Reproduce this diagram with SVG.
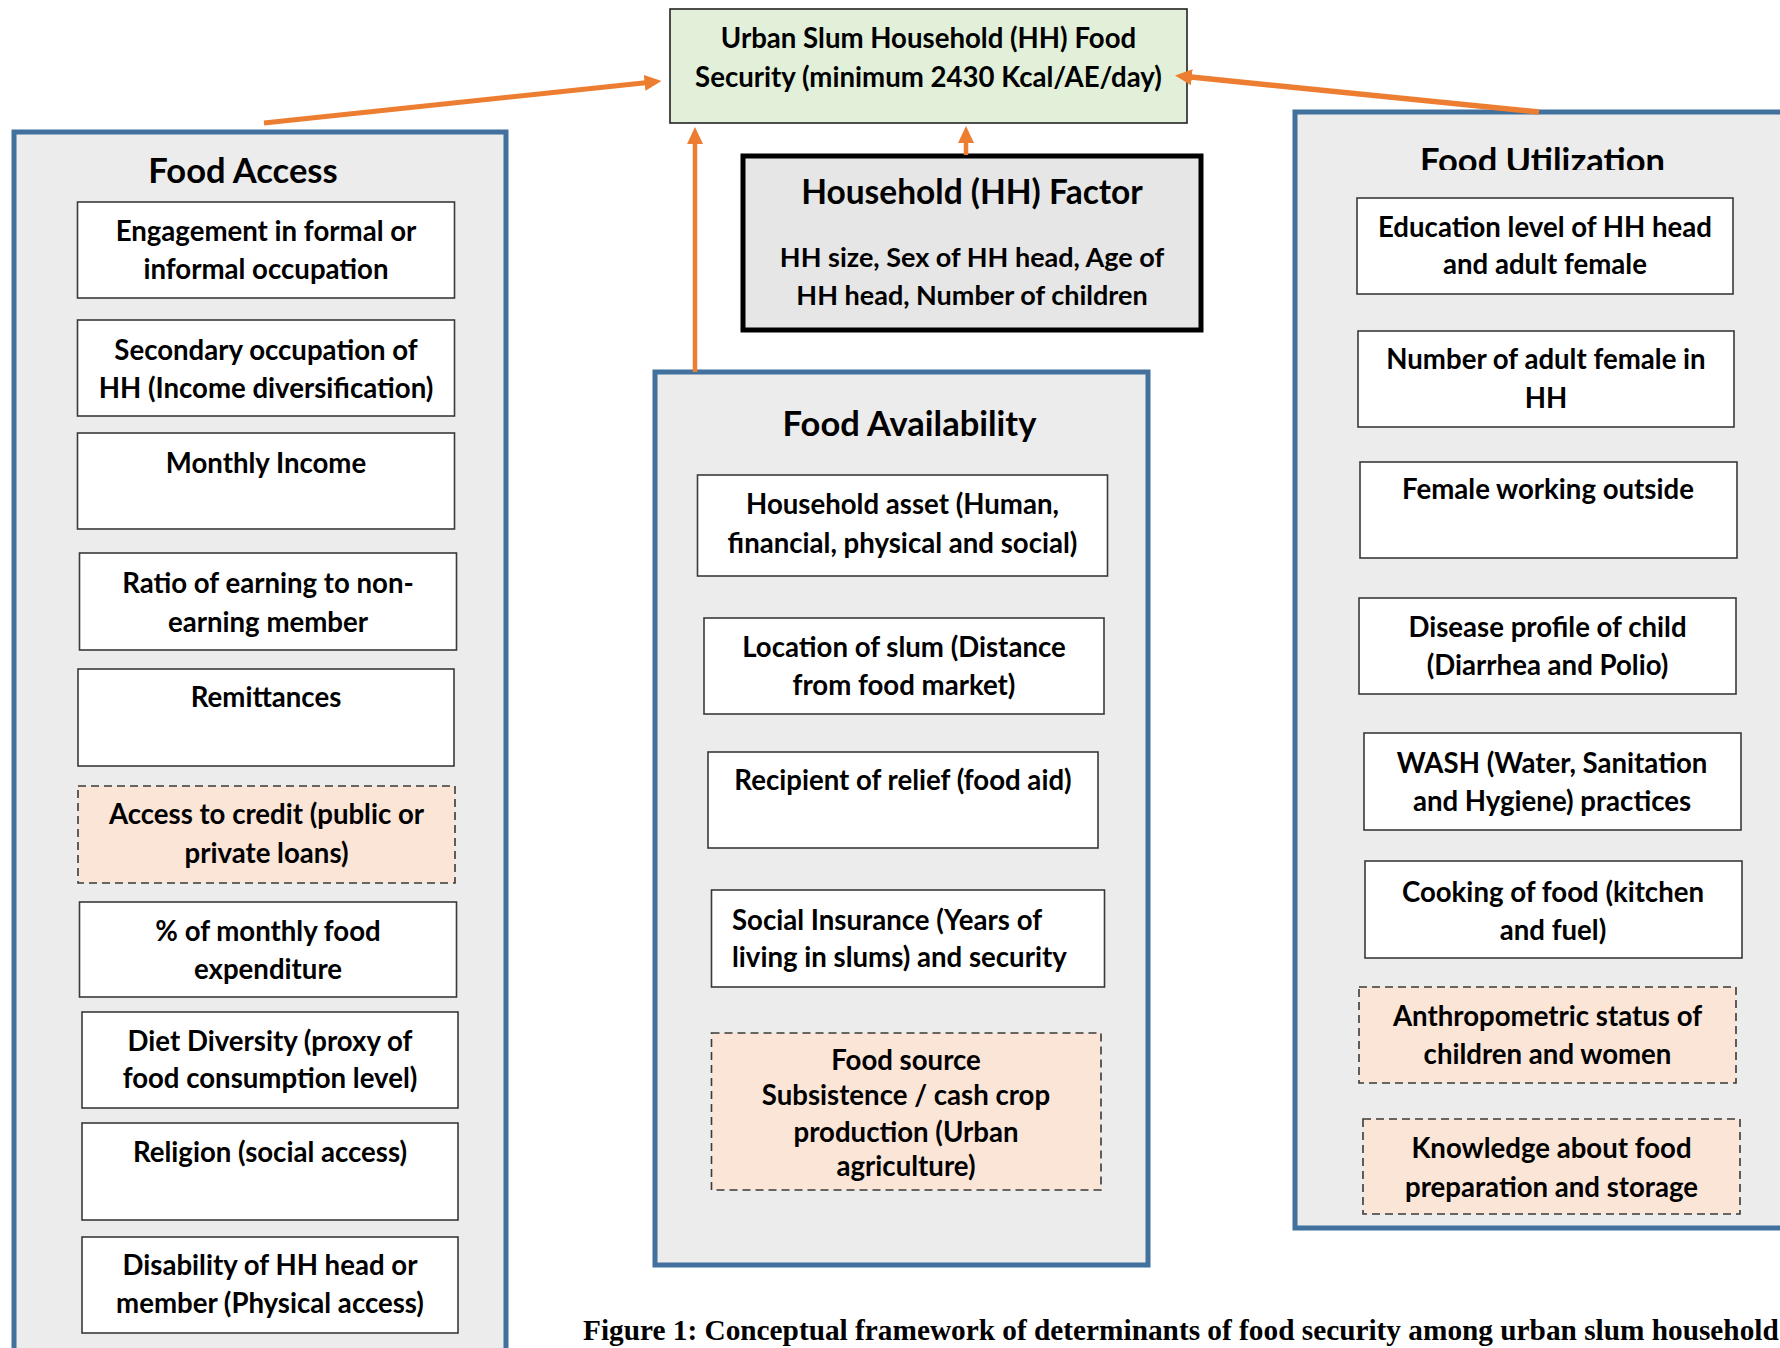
<svg xmlns="http://www.w3.org/2000/svg" width="1780" height="1348" viewBox="0 0 1780 1348">
<defs>
<style>
.grp{fill:#ececec;stroke:#41719c;stroke-width:5}
.item{fill:#ffffff;stroke:#3a3a3a;stroke-width:1.6}
.dash{fill:#fbe5d6;stroke:#3a3a3a;stroke-width:1.6;stroke-dasharray:8 5}
.t{font-family:Lato,"Liberation Sans",sans-serif;font-weight:bold;font-size:27.6px;fill:#000;text-anchor:middle}
.tl{text-anchor:start}
.h{font-size:34.5px}
.hh{font-size:33.5px}
.sub{font-size:27px}
.cap{font-family:"Liberation Serif","Times New Roman",serif;font-weight:bold;font-size:29.3px;fill:#000}
.arr{stroke:#ed7d31;fill:none;marker-end:url(#ah)}
</style>
<marker id="ah" markerUnits="userSpaceOnUse" markerWidth="20" markerHeight="18" viewBox="0 -9 20 18" refX="1" refY="0" orient="auto">
<path d="M0,-8 L17,0 L0,8 Z" fill="#ed7d31"/>
</marker>
<clipPath id="clipU"><rect x="1295" y="112" width="500" height="58"/></clipPath>
</defs>
<rect width="1780" height="1348" fill="#ffffff"/>

<g id="target">
<rect x="670" y="9" width="517" height="114" fill="#e2efd9" stroke="#222" stroke-width="1.6"/>
<text class="t" x="928.5" y="48">Urban Slum Household (HH) Food</text>
<text class="t" x="928.5" y="87">Security (minimum 2430 Kcal/AE/day)</text>
</g>

<g id="hh-factor">
<rect x="743" y="156" width="458" height="174" fill="#e6e6e6" stroke="#000" stroke-width="5"/>
<text class="t hh" x="972" y="204">Household (HH) Factor</text>
<text class="t sub" x="972" y="267">HH size, Sex of HH head, Age of</text>
<text class="t sub" x="972" y="305">HH head, Number of children</text>
</g>

<g id="food-access">
<rect class="grp" x="14" y="132" width="492" height="1300"/>
<text class="t h" x="243" y="183">Food Access</text>
<g id="fa-occupation"><rect class="item" x="77.5" y="202" width="377" height="96"/>
<text class="t" x="266" y="241">Engagement in formal or</text><text class="t" x="266" y="279">informal occupation</text></g>
<g id="fa-secondary"><rect class="item" x="77.5" y="320" width="377" height="96"/>
<text class="t" x="266" y="360">Secondary occupation of</text><text class="t" x="266" y="398">HH (Income diversification)</text></g>
<g id="fa-income"><rect class="item" x="77.5" y="433" width="377" height="96"/>
<text class="t" x="266" y="472.5">Monthly Income</text></g>
<g id="fa-ratio"><rect class="item" x="79.5" y="553" width="377" height="97"/>
<text class="t" x="268" y="593">Ratio of earning to non-</text><text class="t" x="268" y="632">earning member</text></g>
<g id="fa-remit"><rect class="item" x="78" y="669" width="376" height="97"/>
<text class="t" x="266" y="707">Remittances</text></g>
<g id="fa-credit"><rect class="dash" x="78" y="786" width="377" height="97"/>
<text class="t" x="266.5" y="824">Access to credit (public or</text><text class="t" x="266.5" y="863">private loans)</text></g>
<g id="fa-expend"><rect class="item" x="79.5" y="902" width="377" height="95"/>
<text class="t" x="268" y="941">% of monthly food</text><text class="t" x="268" y="979">expenditure</text></g>
<g id="fa-diet"><rect class="item" x="82" y="1012" width="376" height="96"/>
<text class="t" x="270" y="1051">Diet Diversity (proxy of</text><text class="t" x="270" y="1088">food consumption level)</text></g>
<g id="fa-religion"><rect class="item" x="82" y="1123" width="376" height="97"/>
<text class="t" x="270" y="1162">Religion (social access)</text></g>
<g id="fa-disability"><rect class="item" x="82" y="1237" width="376" height="96"/>
<text class="t" x="270" y="1275">Disability of HH head or</text><text class="t" x="270" y="1313">member (Physical access)</text></g>
</g>

<g id="food-availability">
<rect class="grp" x="655" y="372" width="493" height="893"/>
<text class="t h" x="909.5" y="436">Food Availability</text>
<g id="av-asset"><rect class="item" x="697.5" y="475" width="410" height="101"/>
<text class="t" x="902.5" y="514">Household asset (Human,</text><text class="t" x="902.5" y="553">financial, physical and social)</text></g>
<g id="av-location"><rect class="item" x="704" y="618" width="400" height="96"/>
<text class="t" x="904" y="657">Location of slum (Distance</text><text class="t" x="904" y="695">from food market)</text></g>
<g id="av-relief"><rect class="item" x="708" y="752" width="390" height="96"/>
<text class="t" x="903" y="790">Recipient of relief (food aid)</text></g>
<g id="av-insurance"><rect class="item" x="711.5" y="890" width="393" height="97"/>
<text class="t tl" x="732" y="930">Social Insurance (Years of</text><text class="t tl" x="732" y="967">living in slums) and security</text></g>
<g id="av-source"><rect class="dash" x="711.5" y="1033" width="389.5" height="157"/>
<text class="t" x="906" y="1070">Food source</text>
<text class="t" x="906" y="1105">Subsistence / cash crop</text>
<text class="t" x="906" y="1142">production (Urban</text>
<text class="t" x="906" y="1176">agriculture)</text></g>
</g>

<g id="food-utilization">
<rect class="grp" x="1295" y="112" width="600" height="1116"/>
<text class="t h" x="1542.5" y="173" clip-path="url(#clipU)">Food Utilization</text>
<g id="fu-education"><rect class="item" x="1357" y="198" width="376" height="96"/>
<text class="t" x="1545" y="237">Education level of HH head</text><text class="t" x="1545" y="274">and adult female</text></g>
<g id="fu-female-count"><rect class="item" x="1358" y="331" width="376" height="96"/>
<text class="t" x="1546" y="369">Number of adult female in</text><text class="t" x="1546" y="408">HH</text></g>
<g id="fu-female-work"><rect class="item" x="1360" y="462" width="377" height="96"/>
<text class="t" x="1548" y="499">Female working outside</text></g>
<g id="fu-disease"><rect class="item" x="1359" y="598" width="377" height="96"/>
<text class="t" x="1547.5" y="637">Disease profile of child</text><text class="t" x="1547.5" y="675">(Diarrhea and Polio)</text></g>
<g id="fu-wash"><rect class="item" x="1364" y="733" width="377" height="97"/>
<text class="t" x="1552" y="773">WASH (Water, Sanitation</text><text class="t" x="1552" y="811">and Hygiene) practices</text></g>
<g id="fu-cooking"><rect class="item" x="1365" y="861" width="377" height="97"/>
<text class="t" x="1553" y="902">Cooking of food (kitchen</text><text class="t" x="1553" y="940">and fuel)</text></g>
<g id="fu-anthro"><rect class="dash" x="1359" y="987" width="377" height="96"/>
<text class="t" x="1547.5" y="1025.5">Anthropometric status of</text><text class="t" x="1547.5" y="1063.5">children and women</text></g>
<g id="fu-knowledge"><rect class="dash" x="1363" y="1119" width="377" height="95"/>
<text class="t" x="1551.5" y="1158">Knowledge about food</text><text class="t" x="1551.5" y="1197">preparation and storage</text></g>
</g>

<g id="connectors">
<line class="arr" x1="264" y1="123" x2="645.6" y2="82.7" stroke-width="5"/>
<line class="arr" x1="695" y1="372" x2="695" y2="143" stroke-width="4.5"/>
<line class="arr" x1="966" y1="155" x2="966" y2="142" stroke-width="4.5"/>
<line class="arr" x1="1539" y1="112" x2="1190.9" y2="77.1" stroke-width="5.5"/>
</g>

<text class="cap" x="583" y="1340">Figure 1: Conceptual framework of determinants of food security among urban slum household</text>
</svg>
